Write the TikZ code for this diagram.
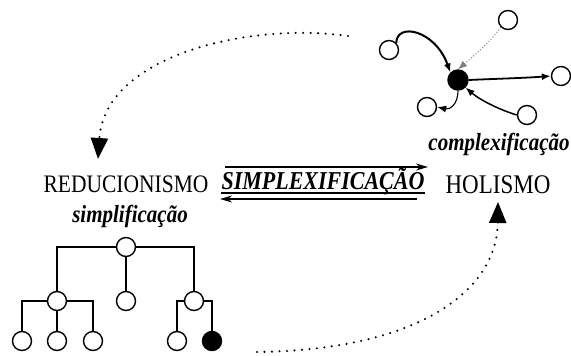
\documentclass[tikz,border=0pt]{standalone}
\usepackage{fontspec}
\setmainfont{Liberation Serif}
\usetikzlibrary{arrows.meta}
\newcommand{\tall}[1]{\scalebox{1}[1.17]{#1}}
\begin{document}
\begin{tikzpicture}[x=1pt,y=-1pt,
  wc/.style={circle,draw,line width=1.4pt,minimum size=19pt,inner sep=0pt,fill=white},
  bc/.style={wc,fill=black},
  treeline/.style={line width=1.4pt},
  bigdot/.style={line width=2.3pt,line cap=round,dash pattern=on 0pt off 7.5pt,-{Triangle[length=21pt,width=17pt]}},
  harr/.style={line width=1.6pt,-{Stealth[length=12pt,width=7pt]}},
  garr/.style={-{Latex[length=9pt,width=7pt]}},
  plain/.style={font=\fontsize{22}{24}\selectfont,inner sep=0pt,anchor=base},
  bi/.style={font=\fontsize{21}{23}\selectfont\bfseries\itshape,inner sep=0pt,anchor=base}
]
\useasboundingbox (0,0) rectangle (571,356);

% texts
\node[plain,font=\fontsize{21.5}{24}\selectfont] (red) at (126,192) {\tall{REDUCIONISMO}};
\node[plain,font=\fontsize{23}{25}\selectfont] (hol) at (498,193) {\tall{HOLISMO}};
\node[bi,font=\fontsize{22}{24}\selectfont\bfseries\itshape] (simp) at (323,189) {\tall{SIMPLEXIFICAÇÃO}};
\draw[line width=1.3pt] ([yshift=-4pt]simp.base west) -- ([yshift=-4pt]simp.base east);
\node[bi] (comp) at (499,150) {\tall{complexificação}};
\node[bi] (simpl) at (130,222) {\tall{simplificação}};

% horizontal arrows
\coordinate (a1) at (225,167);
\coordinate (a2) at (428,167);
\coordinate (b1) at (417,199);
\coordinate (b2) at (220,199);
\draw[harr] (a1) -- (a2);
\draw[harr] (b1) -- (b2);

% big dotted arcs
\coordinate (ts) at (348,36);
\coordinate (te) at (98,159);
\draw[bigdot] (ts) .. controls (250,22) and (105,55) .. (te);
\coordinate (bs) at (257,352);
\coordinate (be) at (498,202);
\draw[bigdot] (bs) .. controls (420,350) and (497,290) .. (be);

% tree
\node[wc] (r) at (126,247) {};
\node[wc] (n1) at (57,301) {};
\node[wc] (n2) at (126,301) {};
\node[wc] (n3) at (194,301) {};
\node[wc] (l1) at (22,341) {};
\node[wc] (l2) at (57,341) {};
\node[wc] (l3) at (93,341) {};
\node[wc] (l4) at (177,341) {};
\node[bc] (l5) at (212,341) {};
\draw[treeline] (r.west) -| (n1.north);
\draw[treeline] (r.south) -- (n2.north);
\draw[treeline] (r.east) -| (n3.north);
\draw[treeline] (n1.west) -| (l1.north);
\draw[treeline] (n1.south) -- (l2.north);
\draw[treeline] (n1.east) -| (l3.north);
\draw[treeline] (n3.west) -| (l4.north);
\draw[treeline] (n3.east) -| (l5.north);

% complex graph
\node[bc,minimum size=20pt] (c) at (458,80) {};
\node[wc] (tr) at (508,20) {};
\node[wc] (lf) at (389,50) {};
\node[wc] (rt) at (561,76) {};
\node[wc] (bl) at (427,107) {};
\node[wc] (br) at (527,115) {};
\draw[garr,line width=2pt] (lf.north east) .. controls (397,22) and (435,30) .. (c.north west);
\draw[garr,draw=gray,line width=1pt,dash pattern=on 1pt off 2pt] (tr.south west) .. controls (490,42) and (475,55) .. (c.north);
\draw[garr,line width=1.8pt] (c.east) .. controls (490,79) and (525,78) .. (rt.west);
\draw[garr,line width=1.1pt] (c.south) .. controls (458,104) and (450,110) .. (bl.east);
\draw[garr,line width=1.5pt] (br.west) .. controls (500,110) and (480,100) .. (c.south east);
\end{tikzpicture}
\end{document}
